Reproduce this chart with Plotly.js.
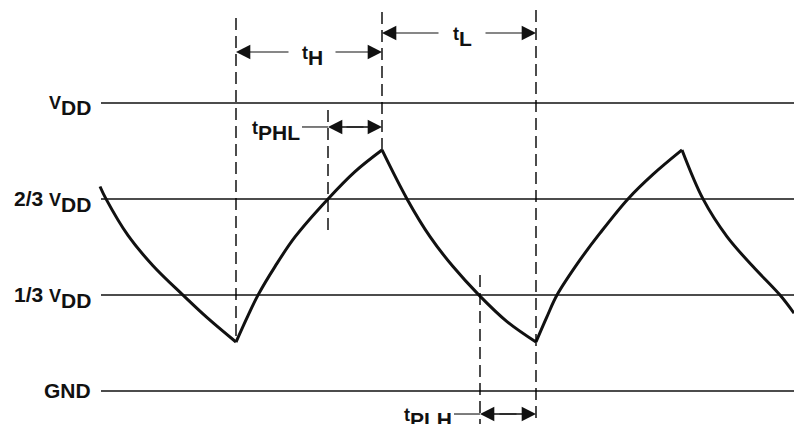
<!DOCTYPE html>
<html><head><meta charset="utf-8">
<script src="https://cdn.plot.ly/plotly-3.0.1.min.js"></script>
<style>html,body{margin:0;padding:0;background:#fff}#chart{width:794px;height:424px}</style>
</head><body><div id="chart"></div>
<script>
// ---- data (time in arbitrary units, voltage as fraction of VDD)
const timeData = [100, 106, 128, 153, 183, 208, 236,
                  248, 258, 275, 295, 328, 355, 382,
                  407, 430, 453, 479, 507, 536,
                  547, 557, 580, 600, 628, 653, 682,
                  703, 727, 753, 780, 794];
const voltageData = [0.71, 0.667, 0.54, 0.435, 0.333, 0.252, 0.17,
                     0.262, 0.333, 0.432, 0.535, 0.667, 0.762, 0.837,
                     0.667, 0.536, 0.432, 0.333, 0.241, 0.17,
                     0.258, 0.333, 0.455, 0.548, 0.667, 0.752, 0.837,
                     0.667, 0.536, 0.432, 0.333, 0.27];
const levelValues = [1, 2/3, 1/3, 0];
const levelLabels = ['V_DD', '2/3 V_DD', '1/3 V_DD', 'GND'];
const intervalNames = ['t_H', 't_L', 't_PHL', 't_PLH'];
const intervalStart = [236, 382, 328, 480];
const intervalEnd   = [382, 536, 382, 536];

// ---- styling helpers
const INK = '#111111';
const FONT = 'Liberation Sans, Arial, sans-serif';
const BASE = 30;               // 70% -> 21px subscripts
function fmt(s) {
  const parts = s.split('_');
  const main = parts[0];
  let html;
  if (parts.length > 1) {
    const pre = main.slice(0, -1), last = main.slice(-1);
    html = (pre ? '<span style="font-size:21px">' + pre + '</span>' : '') +
           '<span style="font-size:18px">' + last + '</span><sub>' + parts[1] + '</sub>';
  } else {
    html = '<span style="font-size:21px">' + main + '</span>';
  }
  return '<b>' + html + '</b>';
}

// ---- waveform split into monotonic segments (cusps stay sharp)
const traces = [];
let seg = {x: [timeData[0]], y: [voltageData[0]]};
for (let i = 1; i < timeData.length; i++) {
  seg.x.push(timeData[i]); seg.y.push(voltageData[i]);
  if (i < timeData.length - 1) {
    const d1 = voltageData[i] - voltageData[i-1], d2 = voltageData[i+1] - voltageData[i];
    if (d1 * d2 < 0) { traces.push(seg); seg = {x: [timeData[i]], y: [voltageData[i]]}; }
  }
}
traces.push(seg);
const data = traces.map(s => ({
  type: 'scatter', mode: 'lines', x: s.x, y: s.y, hoverinfo: 'skip',
  line: {color: INK, width: 3, shape: 'spline', smoothing: 1}
}));

// ---- layout geometry
const X0 = 0, X1 = 794;
const Y0 = -0.1146, Y1 = 1.3576;
const shapes = [];
const annotations = [];

// reference levels
levelValues.forEach((v, i) => {
  shapes.push({type: 'line', xref: 'x', yref: 'y', x0: 101, x1: X1, y0: v, y1: v,
               line: {color: '#111', width: 1.4}});
  annotations.push({xref: 'x', yref: 'y', x: 93, y: v, xanchor: 'right', yanchor: 'middle',
                    yshift: levelLabels[i] === 'GND' ? 0 : -3,
                    text: fmt(levelLabels[i]), showarrow: false,
                    font: {family: FONT, size: BASE, color: INK}});
});

// dashed timing markers: top / bottom extents
const dashTop = [1.295, 1.316, 0.976, 1.323, 0.403];
const dashBot = [0.17, 0.837, 0.559, Y0, Y0];
const markerTimes = [intervalStart[0], intervalEnd[0], intervalStart[2], intervalEnd[1], intervalStart[3]];
markerTimes.forEach((t, i) => {
  shapes.push({type: 'line', xref: 'x', yref: 'y', x0: t, x1: t, y0: dashTop[i], y1: dashBot[i],
               line: {color: '#000', width: 1.4, dash: '12px,6px'}});
});

// interval arrows
const arrowY = [1.177, 1.243, 0.9167, -0.0799];
function arrow(tip, tail, y) {
  annotations.push({xref: 'x', yref: 'y', axref: 'x', ayref: 'y', x: tip, y: y, ax: tail, ay: y,
                    text: '', showarrow: true, arrowhead: 2, arrowsize: 2.6, arrowwidth: 1.1,
                    arrowcolor: INK, standoff: 0, startstandoff: 0});
}
intervalNames.forEach((name, i) => {
  const a = intervalStart[i], b = intervalEnd[i], y = arrowY[i];
  const outside = name === 't_PHL' || name === 't_PLH';
  if (!outside) {
    const cx = (a + b) / 2 + 3;
    arrow(a, cx - 22, y); arrow(b, cx + 22, y);
    annotations.push({xref: 'x', yref: 'y', x: cx, y: y, xanchor: 'center', yanchor: 'middle', yshift: -4,
                      text: fmt(name), showarrow: false, font: {family: FONT, size: BASE, color: INK}});
  } else {
    const mid = (a + b) / 2;
    shapes.push({type: 'line', xref: 'x', yref: 'y', x0: a + 8, x1: b - 8, y0: y, y1: y, line: {color: INK, width: 1.1}});
    arrow(a, mid + 10, y); arrow(b, mid - 10, y);
    const lx = a - 26;
    shapes.push({type: 'line', xref: 'x', yref: 'y', x0: lx, x1: a, y0: y, y1: y, line: {color: INK, width: 1.1}});
    annotations.push({xref: 'x', yref: 'y', x: lx, y: y, xanchor: 'right', yanchor: 'middle', yshift: -4,
                      text: fmt(name), showarrow: false, font: {family: FONT, size: BASE, color: INK}});
  }
});

const layout = {
  width: 794, height: 424, margin: {l: 0, r: 0, t: 0, b: 0},
  paper_bgcolor: '#fff', plot_bgcolor: '#fff', showlegend: false,
  xaxis: {range: [X0, X1], visible: false, fixedrange: true},
  yaxis: {range: [Y0, Y1], visible: false, fixedrange: true},
  shapes: shapes, annotations: annotations
};
Plotly.newPlot('chart', data, layout, {staticPlot: true, displayModeBar: false});
</script></body></html>
